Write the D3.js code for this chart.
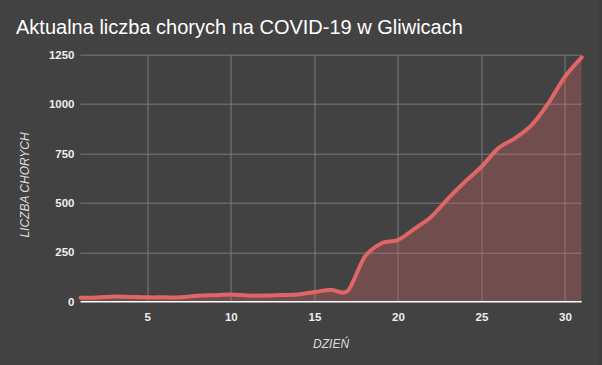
<!DOCTYPE html>
<html>
<head>
<meta charset="utf-8">
<script src="https://cdn.jsdelivr.net/npm/d3@7"></script>
<style>
  html, body { margin: 0; padding: 0; background: #424242; }
  svg { display: block; }
</style>
</head>
<body>
<div id="chart"></div>
<script>
const TITLE = 'Aktualna liczba chorych na COVID-19 w Gliwicach'
const X_LABEL = 'DZIEŃ'
const Y_LABEL = 'LICZBA CHORYCH'

const days = d3.range(1, 32)
const sick = [20, 21, 26, 24, 22, 22, 22, 30, 33, 36, 31, 31, 34, 36, 49, 60, 55,
	226, 295, 312, 370, 430, 522, 606, 683, 776, 827, 894, 1004, 1139, 1237]
const xTicks = [5, 10, 15, 20, 25, 30]
const yTicks = [0, 250, 500, 750, 1000, 1250]

const W = 602, H = 365
const MARGIN = { TOP: 54.7, LEFT: 80.5, RIGHT: 20.3, BOTTOM: 63.3 }
const WIDTH = W - MARGIN.LEFT - MARGIN.RIGHT
const HEIGHT = H - MARGIN.TOP - MARGIN.BOTTOM

const data = days.map((d, i) => ({ day: d, value: sick[i] }))

const svg = d3.select('#chart').append('svg')
	.attr('width', W)
	.attr('height', H)
	.style('font-family', 'Arial, "Liberation Sans", sans-serif')

svg.append('rect').attr('width', W).attr('height', H).attr('fill', '#424242')
// thin darker strip at the right edge
svg.append('rect').attr('x', 599).attr('width', 3).attr('height', H).attr('fill', '#3c3c3c')

svg.append('text')
	.attr('x', 16)
	.attr('y', 33.5)
	.attr('fill', '#ffffff')
	.attr('font-size', 20)
	.text(TITLE)

const g = svg.append('g')
	.attr('transform', `translate(${MARGIN.LEFT}, ${MARGIN.TOP})`)

const x = d3.scaleLinear().domain([1, 31]).range([0, WIDTH])
const y = d3.scaleLinear().domain([0, 1250]).range([HEIGHT, 0])

// gridlines
g.append('g').selectAll('line.h')
	.data(yTicks.filter(t => t > 0))
	.join('line')
		.attr('x1', 0).attr('x2', WIDTH)
		.attr('y1', d => Math.round(y(d)) + 0.5).attr('y2', d => Math.round(y(d)) + 0.5)
		.attr('stroke', '#7a7a7a').attr('stroke-width', 1)

g.append('g').selectAll('line.v')
	.data(xTicks)
	.join('line')
		.attr('x1', d => Math.round(x(d)) + 0.5).attr('x2', d => Math.round(x(d)) + 0.5)
		.attr('y1', 0).attr('y2', HEIGHT)
		.attr('stroke', '#7a7a7a').attr('stroke-width', 1)

// area + line
const curve = d3.curveCardinal.tension(0.1)

g.append('clipPath').attr('id', 'clip')
	.append('rect').attr('x', 0).attr('y', -10).attr('width', WIDTH).attr('height', HEIGHT + 10)

g.append('path')
	.datum(data)
	.attr('clip-path', 'url(#clip)')
	.attr('fill', '#e06666')
	.attr('fill-opacity', 0.3)
	.attr('d', d3.area().curve(curve)
		.x(d => x(d.day)).y0(y(0)).y1(d => y(d.value)))

// baseline
g.append('line')
	.attr('x1', 0).attr('x2', WIDTH)
	.attr('y1', y(0)).attr('y2', y(0))
	.attr('stroke', '#ffffff').attr('stroke-width', 1.5)

g.append('path')
	.datum(data)
	.attr('fill', 'none')
	.attr('stroke', '#e06666')
	.attr('stroke-width', 4)
	.attr('stroke-linejoin', 'round')
	.attr('stroke-linecap', 'round')
	.attr('d', d3.line().curve(curve)
		.x(d => x(d.day)).y(d => y(d.value)))

// axes
const xAxis = g.append('g')
	.attr('transform', `translate(0, ${HEIGHT})`)
	.call(d3.axisBottom(x).tickValues(xTicks).tickSize(0).tickPadding(11))
xAxis.select('.domain').remove()

const yAxis = g.append('g')
	.call(d3.axisLeft(y).tickValues(yTicks).tickFormat(d3.format('d')).tickSize(0).tickPadding(6))
yAxis.select('.domain').remove()

g.selectAll('.tick text')
	.attr('fill', '#eeeeee')
	.attr('font-size', 11.5)
	.attr('font-weight', 'bold')
	.attr('font-family', 'Arial, "Liberation Sans", sans-serif')

svg.append('text')
	.attr('x', MARGIN.LEFT + WIDTH / 2)
	.attr('y', 347.5)
	.attr('text-anchor', 'middle')
	.attr('font-size', 12)
	.attr('font-style', 'italic')
	.attr('fill', '#dddddd')
	.text(X_LABEL)

svg.append('text')
	.attr('transform', `translate(29, 185) rotate(-90)`)
	.attr('text-anchor', 'middle')
	.attr('font-size', 12)
	.attr('font-style', 'italic')
	.attr('fill', '#dddddd')
	.text(Y_LABEL)
</script>
</body>
</html>
